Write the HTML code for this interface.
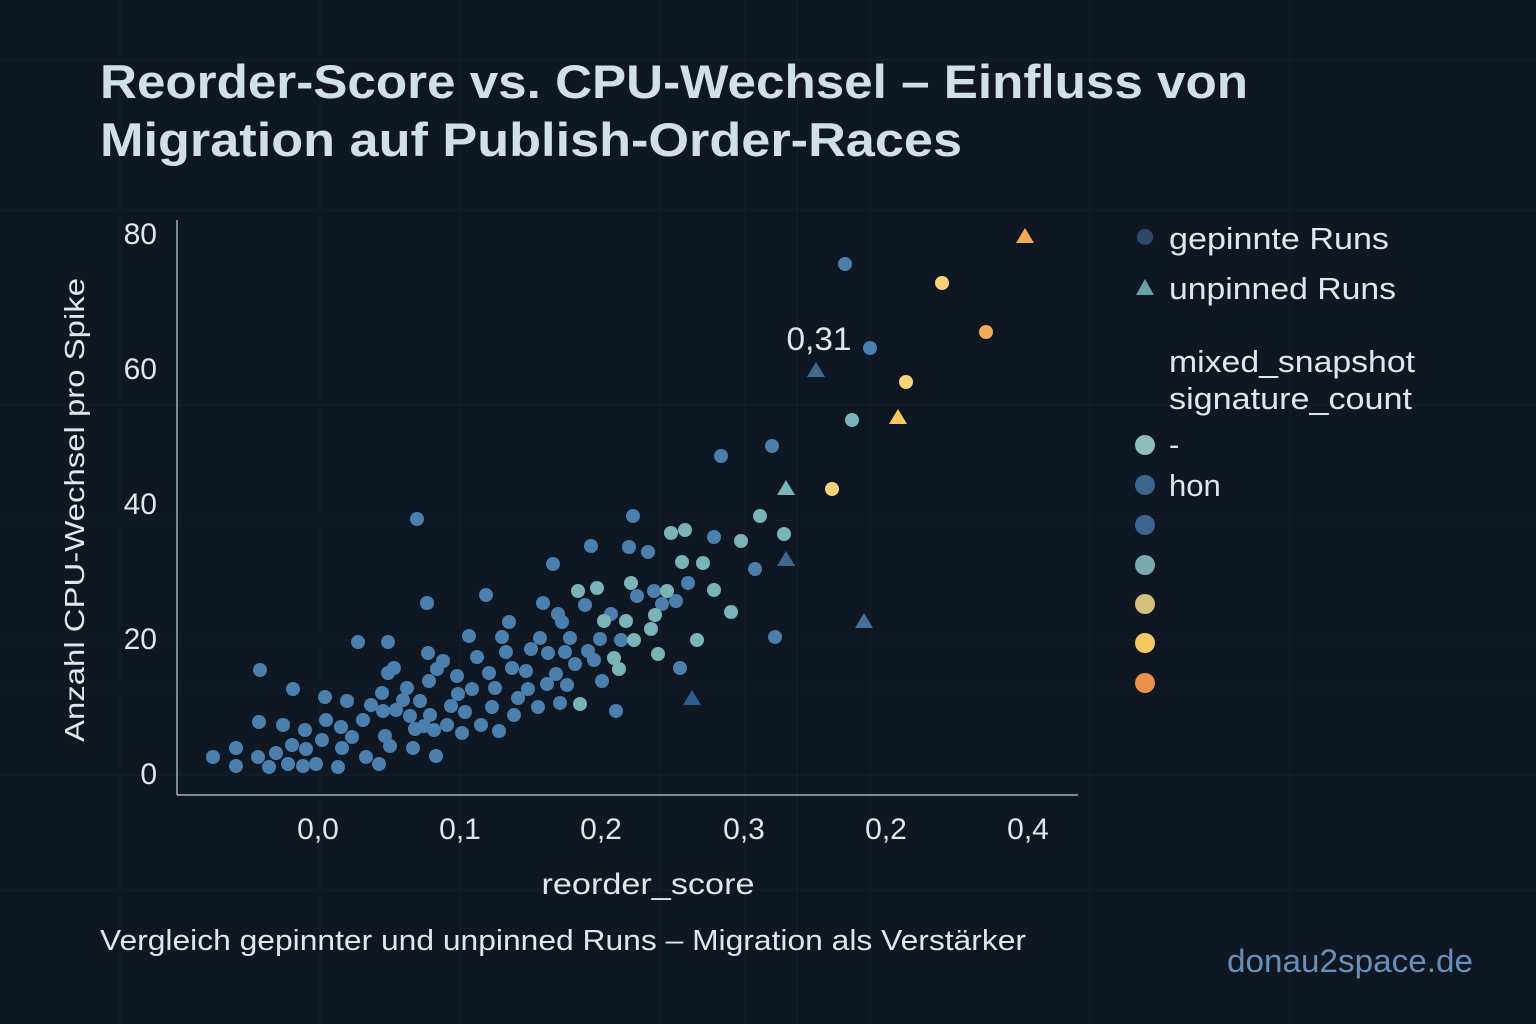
<!DOCTYPE html>
<html><head><meta charset="utf-8"><style>
html,body{margin:0;padding:0;background:#0f1723;}
svg{display:block;font-family:"Liberation Sans",sans-serif;}
</style></head><body>
<svg width="1536" height="1024" xmlns="http://www.w3.org/2000/svg">
<rect width="1536" height="1024" fill="#0f1723"/>
<g stroke="#151f2e" stroke-width="1">
<line x1="0" y1="60" x2="1536" y2="60"/><line x1="0" y1="210" x2="1536" y2="210"/><line x1="0" y1="405" x2="1536" y2="405"/><line x1="0" y1="520" x2="1536" y2="520"/><line x1="0" y1="640" x2="1536" y2="640"/><line x1="0" y1="688" x2="1536" y2="688"/><line x1="0" y1="775" x2="1536" y2="775"/><line x1="0" y1="890" x2="1536" y2="890"/>
<line x1="120" y1="0" x2="120" y2="1024"/><line x1="320" y1="0" x2="320" y2="1024"/><line x1="460" y1="0" x2="460" y2="1024"/><line x1="660" y1="0" x2="660" y2="1024"/><line x1="745" y1="0" x2="745" y2="1024"/><line x1="797" y1="0" x2="797" y2="1024"/><line x1="870" y1="0" x2="870" y2="1024"/><line x1="1090" y1="0" x2="1090" y2="1024"/><line x1="1290" y1="0" x2="1290" y2="1024"/>
</g>
<text x="100" y="98" font-size="47" font-weight="bold" fill="#cfe0e8" textLength="1148" lengthAdjust="spacingAndGlyphs">Reorder-Score vs. CPU-Wechsel – Einfluss von</text>
<text x="100" y="156" font-size="47" font-weight="bold" fill="#cfe0e8" textLength="862" lengthAdjust="spacingAndGlyphs">Migration auf Publish-Order-Races</text>
<line x1="177" y1="220" x2="177" y2="795" stroke="#c8d0d8" stroke-width="1.2"/>
<line x1="177" y1="795" x2="1078" y2="795" stroke="#c8d0d8" stroke-width="1.2"/>
<g fill="#dfe6ec" font-size="30" text-anchor="end">
<text x="157" y="244">80</text><text x="157" y="379">60</text><text x="157" y="514">40</text><text x="157" y="649">20</text><text x="157" y="784">0</text>
</g>
<g fill="#dfe6ec" font-size="30" text-anchor="middle">
<text x="318" y="839">0,0</text><text x="460" y="839">0,1</text><text x="601" y="839">0,2</text><text x="744" y="839">0,3</text><text x="886" y="839">0,2</text><text x="1028" y="839">0,4</text>
<text x="648" y="894" textLength="213" lengthAdjust="spacingAndGlyphs">reorder_score</text>
<text x="819" y="350" font-size="32" textLength="65" lengthAdjust="spacingAndGlyphs">0,31</text>
</g>
<text transform="translate(84,510) rotate(-90)" fill="#dfe6ec" font-size="28" text-anchor="middle" textLength="464" lengthAdjust="spacingAndGlyphs">Anzahl CPU-Wechsel pro Spike</text>
<g fill="#4a7fae">
<circle cx="213" cy="757" r="7"/><circle cx="236" cy="766" r="7"/><circle cx="236" cy="748" r="7"/><circle cx="258" cy="757" r="7"/><circle cx="259" cy="722" r="7"/><circle cx="260" cy="670" r="7"/><circle cx="269" cy="767" r="7"/><circle cx="276" cy="753" r="7"/><circle cx="283" cy="725" r="7"/><circle cx="288" cy="764" r="7"/><circle cx="292" cy="745" r="7"/><circle cx="293" cy="689" r="7"/><circle cx="303" cy="766" r="7"/><circle cx="305" cy="730" r="7"/><circle cx="306" cy="749" r="7"/><circle cx="316" cy="764" r="7"/><circle cx="322" cy="740" r="7"/><circle cx="325" cy="697" r="7"/><circle cx="326" cy="720" r="7"/><circle cx="338" cy="767" r="7"/><circle cx="341" cy="727" r="7"/><circle cx="342" cy="748" r="7"/><circle cx="347" cy="701" r="7"/><circle cx="352" cy="737" r="7"/><circle cx="358" cy="642" r="7"/><circle cx="363" cy="720" r="7"/><circle cx="366" cy="757" r="7"/><circle cx="371" cy="705" r="7"/><circle cx="379" cy="764" r="7"/><circle cx="382" cy="693" r="7"/><circle cx="383" cy="711" r="7"/><circle cx="385" cy="736" r="7"/><circle cx="388" cy="642" r="7"/><circle cx="388" cy="673" r="7"/><circle cx="390" cy="746" r="7"/><circle cx="394" cy="668" r="7"/><circle cx="396" cy="710" r="7"/><circle cx="403" cy="700" r="7"/><circle cx="407" cy="688" r="7"/><circle cx="410" cy="716" r="7"/><circle cx="413" cy="748" r="7"/><circle cx="415" cy="729" r="7"/><circle cx="420" cy="701" r="7"/><circle cx="424" cy="726" r="7"/><circle cx="428" cy="653" r="7"/><circle cx="429" cy="681" r="7"/><circle cx="430" cy="715" r="7"/><circle cx="434" cy="730" r="7"/><circle cx="436" cy="756" r="7"/><circle cx="437" cy="669" r="7"/><circle cx="443" cy="661" r="7"/><circle cx="447" cy="725" r="7"/><circle cx="451" cy="706" r="7"/><circle cx="457" cy="676" r="7"/><circle cx="458" cy="694" r="7"/><circle cx="462" cy="733" r="7"/><circle cx="465" cy="712" r="7"/><circle cx="469" cy="636" r="7"/><circle cx="472" cy="689" r="7"/><circle cx="477" cy="657" r="7"/><circle cx="481" cy="725" r="7"/><circle cx="486" cy="595" r="7"/><circle cx="489" cy="673" r="7"/><circle cx="492" cy="707" r="7"/><circle cx="495" cy="688" r="7"/><circle cx="499" cy="731" r="7"/><circle cx="502" cy="637" r="7"/><circle cx="506" cy="652" r="7"/><circle cx="509" cy="622" r="7"/><circle cx="512" cy="668" r="7"/><circle cx="514" cy="715" r="7"/><circle cx="518" cy="698" r="7"/><circle cx="526" cy="671" r="7"/><circle cx="528" cy="689" r="7"/><circle cx="531" cy="649" r="7"/><circle cx="538" cy="707" r="7"/><circle cx="540" cy="638" r="7"/><circle cx="543" cy="603" r="7"/><circle cx="547" cy="684" r="7"/><circle cx="548" cy="653" r="7"/><circle cx="553" cy="564" r="7"/><circle cx="556" cy="674" r="7"/><circle cx="558" cy="614" r="7"/><circle cx="560" cy="703" r="7"/><circle cx="562" cy="622" r="7"/><circle cx="565" cy="652" r="7"/><circle cx="567" cy="685" r="7"/><circle cx="570" cy="638" r="7"/><circle cx="575" cy="664" r="7"/><circle cx="585" cy="605" r="7"/><circle cx="588" cy="651" r="7"/><circle cx="591" cy="546" r="7"/><circle cx="594" cy="660" r="7"/><circle cx="600" cy="639" r="7"/><circle cx="602" cy="681" r="7"/><circle cx="611" cy="614" r="7"/><circle cx="616" cy="711" r="7"/><circle cx="621" cy="640" r="7"/><circle cx="629" cy="547" r="7"/><circle cx="633" cy="516" r="7"/><circle cx="637" cy="596" r="7"/><circle cx="648" cy="552" r="7"/><circle cx="654" cy="591" r="7"/><circle cx="662" cy="604" r="7"/><circle cx="676" cy="601" r="7"/><circle cx="680" cy="668" r="7"/><circle cx="688" cy="583" r="7"/><circle cx="714" cy="537" r="7"/><circle cx="721" cy="456" r="7"/><circle cx="772" cy="446" r="7"/><circle cx="775" cy="637" r="7"/><circle cx="845" cy="264" r="7"/><circle cx="870" cy="348" r="7"/><circle cx="417" cy="519" r="7"/><circle cx="427" cy="603" r="7"/><circle cx="755" cy="569" r="7"/>
</g>
<g fill="#7ab3b8">
<circle cx="578" cy="591" r="7"/><circle cx="580" cy="704" r="7"/><circle cx="597" cy="588" r="7"/><circle cx="604" cy="621" r="7"/><circle cx="614" cy="658" r="7"/><circle cx="619" cy="669" r="7"/><circle cx="626" cy="621" r="7"/><circle cx="631" cy="583" r="7"/><circle cx="634" cy="640" r="7"/><circle cx="651" cy="629" r="7"/><circle cx="655" cy="615" r="7"/><circle cx="658" cy="654" r="7"/><circle cx="667" cy="591" r="7"/><circle cx="671" cy="533" r="7"/><circle cx="682" cy="562" r="7"/><circle cx="685" cy="530" r="7"/><circle cx="697" cy="640" r="7"/><circle cx="703" cy="563" r="7"/><circle cx="714" cy="590" r="7"/><circle cx="731" cy="612" r="7"/><circle cx="741" cy="541" r="7"/><circle cx="760" cy="516" r="7"/><circle cx="784" cy="534" r="7"/><circle cx="852" cy="420" r="7"/>
</g>
<g>
<polygon points="816,362 825,377 807,377" fill="#3f6890"/>
<polygon points="786,480 795,495 777,495" fill="#7ab3b8"/>
<polygon points="786,551 795,566 777,566" fill="#3f6890"/>
<polygon points="864,613 873,628 855,628" fill="#4a6f94"/>
<polygon points="692,690 701,705 683,705" fill="#2f5e90"/>
<polygon points="1025,228 1034,243 1016,243" fill="#f2aa55"/>
<polygon points="898,409 907,424 889,424" fill="#f6c85e"/>
<circle cx="942" cy="283" r="7" fill="#f8d27a"/>
<circle cx="906" cy="382" r="7" fill="#f8d27a"/>
<circle cx="832" cy="489" r="7" fill="#f8d27a"/>
<circle cx="986" cy="332" r="7" fill="#f2aa55"/>
</g>
<g font-size="31" fill="#dfe6ec">
<circle cx="1145" cy="237" r="8" fill="#2e4a6a"/><text x="1169" y="249" textLength="220" lengthAdjust="spacingAndGlyphs">gepinnte Runs</text>
<polygon points="1145,279 1154,295 1136,295" fill="#6aa0a8"/><text x="1169" y="299" textLength="227" lengthAdjust="spacingAndGlyphs">unpinned Runs</text>
<text x="1169" y="372" textLength="246" lengthAdjust="spacingAndGlyphs">mixed_snapshot</text>
<text x="1169" y="409" textLength="243" lengthAdjust="spacingAndGlyphs">signature_count</text>
<circle cx="1145" cy="445" r="10" fill="#8fbcbc"/><text x="1169" y="455">-</text>
<circle cx="1145" cy="485" r="10" fill="#3d6590"/><text x="1169" y="496">hon</text>
<circle cx="1145" cy="525" r="10" fill="#3d6590"/>
<circle cx="1145" cy="565" r="10" fill="#7aaab0"/>
<circle cx="1145" cy="604" r="10" fill="#d4c07a"/>
<circle cx="1145" cy="643" r="10" fill="#f5c860"/>
<circle cx="1145" cy="683" r="10" fill="#e8914a"/>
</g>
<text x="100" y="950" font-size="29" fill="#dfe6ec" textLength="926" lengthAdjust="spacingAndGlyphs">Vergleich gepinnter und unpinned Runs – Migration als Verstärker</text>
<text x="1227" y="972" font-size="32" fill="#6a8fb8" textLength="246" lengthAdjust="spacingAndGlyphs">donau2space.de</text>
</svg>
</body></html>
